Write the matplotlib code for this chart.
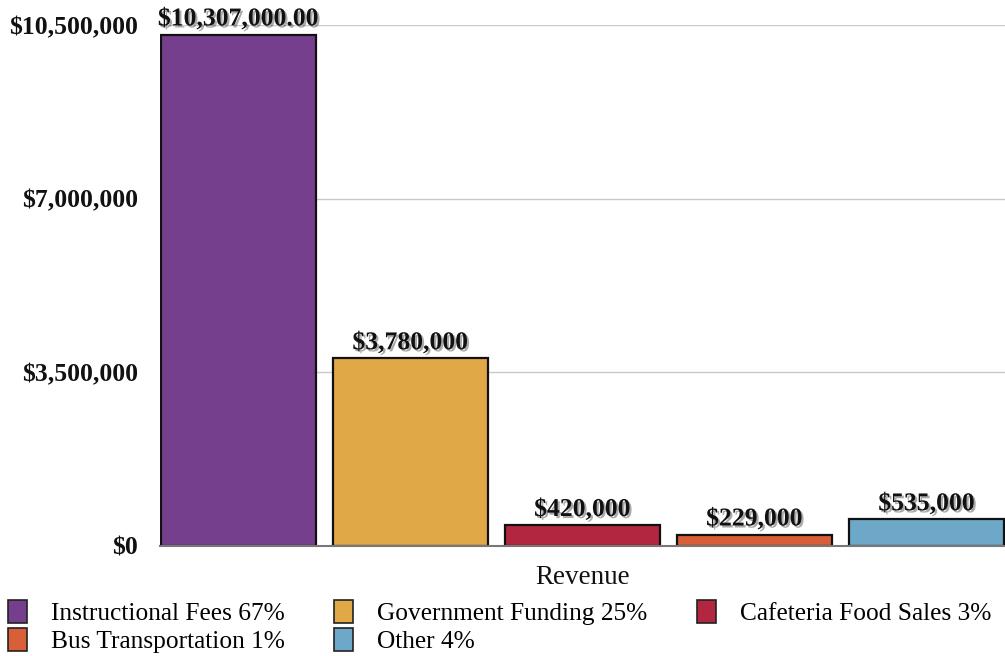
import matplotlib
matplotlib.use("Agg")
import matplotlib.pyplot as plt
import matplotlib.patheffects as pe
from matplotlib.patches import Patch

categories = ["Instructional Fees 67%", "Government Funding 25%", "Cafeteria Food Sales 3%",
              "Bus Transportation 1%", "Other 4%"]
values = [10307000, 3780000, 420000, 229000, 535000]
value_labels = ["$10,307,000.00", "$3,780,000", "$420,000", "$229,000", "$535,000"]
colors = ["#763F8E", "#E0A847", "#B3263F", "#D95F38", "#6EA8C9"]
yticks = [0, 3500000, 7000000, 10500000]
ytick_labels = ["$0", "$3,500,000", "$7,000,000", "$10,500,000"]
xlabel = "Revenue"

plt.rcParams['font.family'] = ['Liberation Serif', 'DejaVu Serif']

W, H = 1005, 656
fig = plt.figure(figsize=(W / 100, H / 100), dpi=100)
ax = fig.add_axes([160 / W, 1 - 546 / H, (1005 - 160) / W, (546 - 25) / H])

width = 155 / 172
xs = list(range(len(values)))
bars = ax.bar(xs, values, width=width, color=colors, edgecolor="#111111", linewidth=1.6, zorder=3)

shadow = [pe.withSimplePatchShadow(offset=(1.5, -1.5), shadow_rgbFace="#444444", alpha=0.45)]
for x, v, lab in zip(xs, values, value_labels):
    ax.annotate(lab, (x, v), xytext=(0, 3), textcoords="offset points", ha="center", va="bottom",
                fontsize=18.5, fontweight="bold", color="#111111", path_effects=shadow,
                annotation_clip=False, zorder=5)

ax.set_xlim(-width / 2 - 0.005, len(values) - 1 + width / 2 + 0.005)
ax.set_ylim(0, 10500000)
ax.set_yticks(yticks)
ax.set_yticklabels(ytick_labels, fontsize=18.5, fontweight="bold", color="#111111")
ax.set_xticks([])
ax.yaxis.grid(True, color="#C8C8C8", linewidth=1, zorder=0)
ax.tick_params(axis="y", length=0, pad=16)
for s in ["top", "right", "left"]:
    ax.spines[s].set_visible(False)
ax.spines["bottom"].set_color("#777777")
ax.spines["bottom"].set_linewidth(1.5)
ax.spines["bottom"].set_zorder(4)

fig.text(583 / W, 1 - 577 / H, xlabel, ha="center", va="center", fontsize=19.5, color="#111111")

handles = [Patch(facecolor=c, edgecolor="#222222", linewidth=1.2) for c in colors]
order = [0, 3, 1, 4, 2]
leg = fig.legend([handles[i] for i in order], [categories[i] for i in order],
                 loc="lower left", bbox_to_anchor=(0.005, 0.0), ncol=3, frameon=False,
                 fontsize=18.3, handlelength=0.75, handleheight=1.0, handletextpad=0.95,
                 columnspacing=1.95, labelspacing=0.12, borderaxespad=0.05, borderpad=0.05)

fig.savefig("out.png", dpi=100, facecolor="white")
